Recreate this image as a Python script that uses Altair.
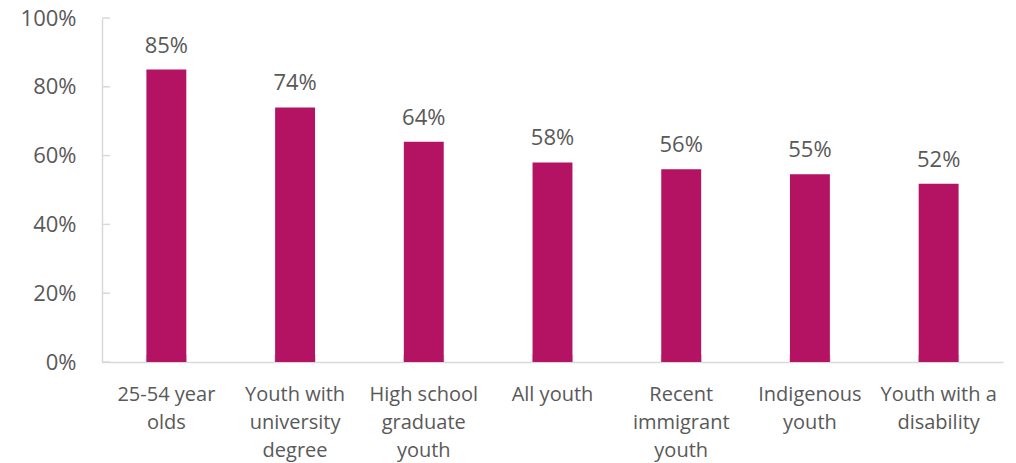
import altair as alt
import pandas as pd

categories = ["25-54 year olds", "Youth with university degree", "High school graduate youth",
              "All youth", "Recent immigrant youth", "Indigenous youth", "Youth with a disability"]
label_lines = [["25-54 year", "olds"], ["Youth with", "university", "degree"],
               ["High school", "graduate", "youth"], ["All youth"],
               ["Recent", "immigrant", "youth"], ["Indigenous", "youth"],
               ["Youth with a", "disability"]]
values = [85.0, 74.0, 64.0, 58.0, 56.0, 54.6, 51.8]
y_ticks = [0, 20, 40, 60, 80, 100]

df = pd.DataFrame({"cat": categories, "val": [v / 100 for v in values]})
tick_df = pd.DataFrame({"t": [t / 100 for t in y_ticks]})

W, H = 901, 344
FONT = "Open Sans"
TXT = "#595959"
AX = "#D9D9D9"
BAR = "#B41263"

label_map = "{" + ",".join(
    "'" + c + "':[" + ",".join("'" + l + "'" for l in ls) + "]" for c, ls in zip(categories, label_lines)
) + "}"

xs = alt.Scale(domain=categories, paddingInner=0.69, paddingOuter=0.345)
ys = alt.Scale(domain=[0, 1], nice=False)

bars = alt.Chart(df).mark_bar(color=BAR).encode(
    x=alt.X("cat:N", scale=xs, sort=categories, title=None,
            axis=alt.Axis(labelExpr=label_map + "[datum.label]", labelAngle=0, labelAlign="center",
                          ticks=False, tickSize=0,
                          domainColor=AX, domainWidth=1.5, labelFont=FONT, labelFontSize=20,
                          labelColor=TXT, labelPadding=22, labelLineHeight=28, labelBaseline="top")),
    y=alt.Y("val:Q", scale=ys, title=None,
            axis=alt.Axis(values=[t / 100 for t in y_ticks], format=".0%", ticks=False, tickSize=0,
                          grid=False, domainColor=AX, domainWidth=1.5, labelFont=FONT,
                          labelFontSize=22, labelColor=TXT, labelPadding=26)),
)

text = alt.Chart(df).mark_text(font=FONT, fontSize=22, color=TXT, baseline="alphabetic", dy=-17).encode(
    x=alt.X("cat:N", scale=xs, sort=categories),
    y=alt.Y("val:Q", scale=ys),
    text=alt.Text("val:Q", format=".0%"),
)

ytick = alt.Chart(tick_df).mark_rule(color=AX, strokeWidth=1.5).encode(
    y=alt.Y("t:Q", scale=ys), x=alt.value(0), x2=alt.value(8)
)

xtick0 = alt.Chart(df).mark_rule(color=AX, strokeWidth=1.5).encode(
    x=alt.X("cat:N", scale=xs, sort=categories, bandPosition=0), y=alt.value(H - 7), y2=alt.value(H)
)
xtick1 = alt.Chart(df).mark_rule(color=AX, strokeWidth=1.5).encode(
    x=alt.X("cat:N", scale=xs, sort=categories, bandPosition=1), y=alt.value(H - 7), y2=alt.value(H)
)

chart = alt.layer(ytick, xtick0, xtick1, bars, text).properties(
    width=W, height=H, autosize=alt.AutoSizeParams(type="none"),
    padding={"left": 102, "top": 18, "right": 13, "bottom": 101},
    background="white",
).configure_view(strokeWidth=0, stroke="transparent")

chart.save("out.html", embed_options={"renderer": "svg", "actions": False})
